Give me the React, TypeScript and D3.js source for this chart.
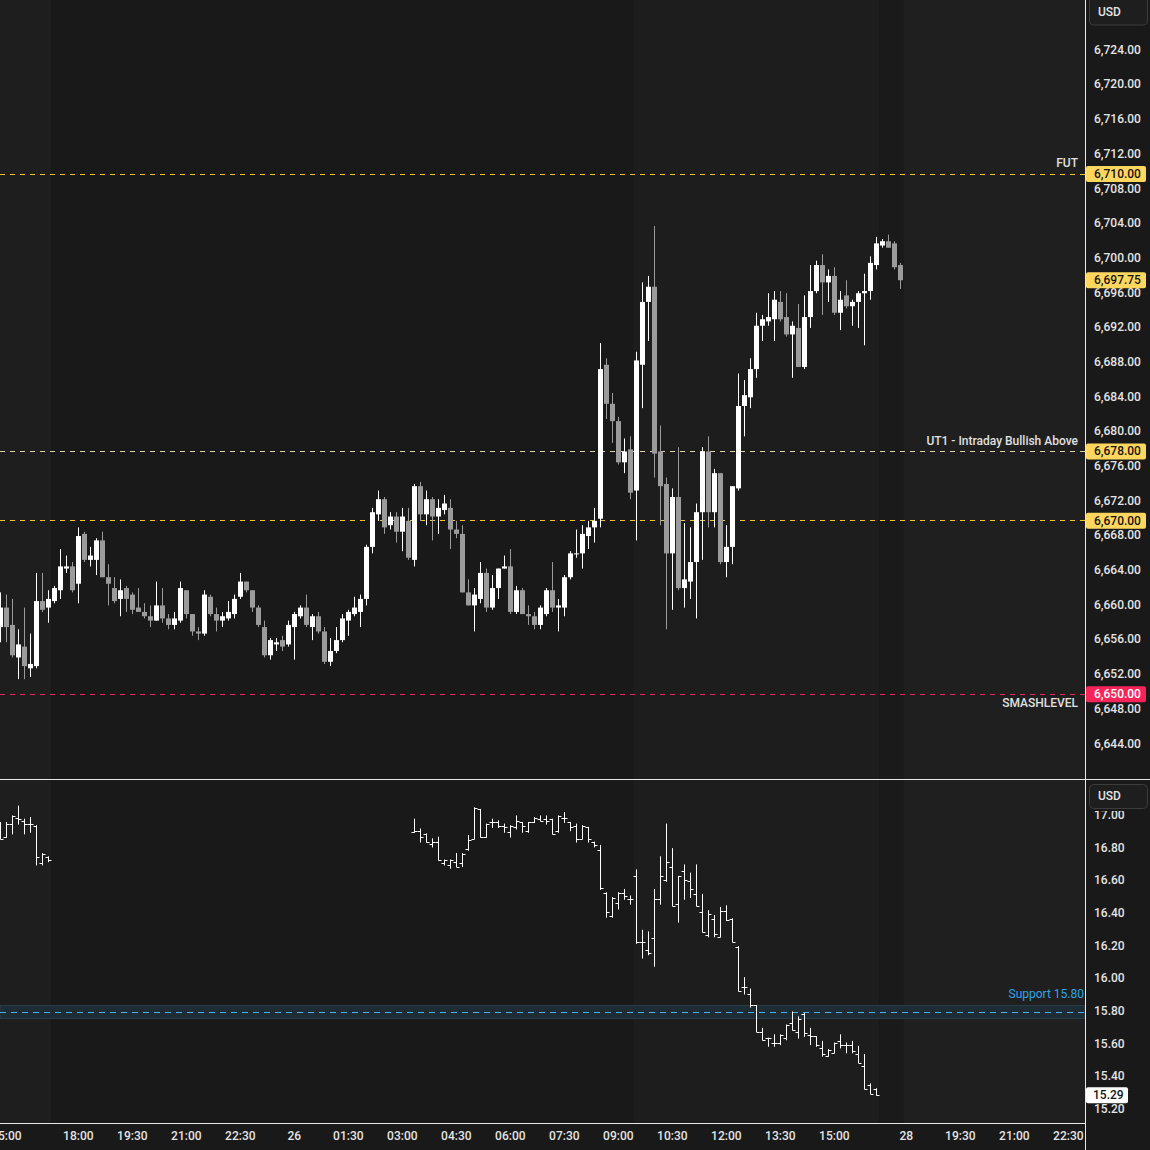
import React from 'react';
import * as d3 from 'd3';

// ---------- ES 10-minute candles (index 0 = 14:50) ----------
const esOpen = [6657.75,6660,6658,6654.25,6655.5,6653,6653.25,6660.75,6660,6660.75,6662,6664.5,6664.75,6662.75,6668.5,6665.5,6665.5,6667.75,6663.5,6662.25,6661,6662.25,6661.5,6660,6659.5,6659,6658.5,6660.25,6658.75,6658,6658.5,6662,6659.25,6657.25,6657,6661.25,6659.25,6658.5,6658.75,6659.25,6661.25,6663,6662,6660,6657.75,6654.5,6655.75,6656.25,6655.75,6657.75,6659,6660,6657.75,6659,6657.25,6653.75,6655,6656.25,6658.5,6659.25,6659.5,6661,6667,6670.75,6672.5,6669.5,6670.5,6668.75,6670,6665.5,6674,6670.75,6672.5,6670.5,6671.25,6671.5,6669,6668.5,6661.75,6660.25,6661,6664,6660,6662.25,6664.5,6664.75,6659.5,6662,6659.25,6659,6658,6659.25,6662,6660,6660,6663.5,6666.25,6666.25,6668.25,6669.25,6670.25,6688,6683.5,6681.5,6676.75,6678.25,6673.5,6688,6695.25,6697,6678,6674.25,6666.25,6672.75,6662.25,6663,6665.25,6671,6678,6671,6675.5,6665.25,6667,6673.75,6683.25,6684.25,6687.5,6692.5,6693,6693.25,6695.25,6693.5,6691.5,6692.25,6687.75,6693.5,6696.5,6699.5,6697.5,6698.25,6694,6696,6694.75,6695.25,6696.25,6696.5,6699.5,6701.75,6702.25,6702,6699.5];
const esHigh = [6661.75,6661.5,6661,6657.5,6660,6657,6664,6664,6662,6662.5,6666.75,6666,6665.25,6669.25,6668.75,6667,6668,6668.75,6665,6663.5,6663.25,6662.5,6661.75,6662.25,6660.5,6660.25,6663,6662.25,6659.25,6659.5,6663,6662,6659.25,6657.75,6662,6661.5,6660,6659.5,6660.75,6661.5,6664,6663,6662,6660.25,6658.5,6656.5,6656.5,6656.75,6658.5,6659.5,6660.25,6661.5,6659.25,6659.5,6657.75,6656.5,6657.75,6659.25,6659.75,6661.25,6661.5,6667.25,6671.5,6673.5,6672.75,6671,6671,6671.5,6671.5,6674.25,6674.5,6673.5,6672.75,6672.5,6673,6672.5,6670,6669.5,6663.25,6662.25,6665.25,6664.5,6663.75,6664.5,6666,6666.75,6662.5,6662.25,6660.25,6659.5,6660.25,6662.25,6665.25,6661,6663.75,6666.5,6669,6669.5,6670,6671.5,6690.5,6688.75,6684.75,6682,6679.5,6679.75,6689.5,6697.5,6698.25,6704,6681,6675,6673.75,6678.5,6669.75,6669.25,6672,6678.5,6679.75,6676,6675.5,6669.5,6674,6687,6686.25,6688.75,6694,6693.75,6696.25,6696.5,6696.5,6696.25,6693,6695,6696,6699.5,6700,6700.75,6699,6699.25,6696.5,6697.75,6695.5,6696.5,6698.5,6700.5,6702.75,6702.5,6703,6702.25,6699.75];
const esLow = [6656,6656,6654.25,6651.75,6651.75,6652,6653,6659.5,6658.25,6660.5,6661,6664,6661.75,6660.5,6665.25,6664.75,6663.75,6663.5,6660.25,6660.5,6659,6659.5,6659.25,6659.5,6658.75,6657.75,6658.5,6658.25,6657.5,6657.5,6658.25,6658.75,6656.75,6656.25,6656.75,6659,6657.25,6657.75,6658.5,6658.75,6661,6661.75,6659.5,6657.75,6654.25,6654,6655,6655,6655.5,6654,6658.75,6657.75,6656.25,6657,6653.5,6653.25,6654.75,6656,6656.75,6659,6657.75,6660.25,6666.25,6670,6668.5,6669,6667.5,6666.5,6665.5,6664.75,6670,6669.5,6667.75,6668.5,6670.75,6666.75,6668,6661.75,6660.25,6657.25,6660.5,6659.5,6659.75,6661,6664.5,6659.25,6659.25,6659.25,6658,6657.5,6657.5,6659,6659.5,6657.25,6659,6663.25,6665.75,6664.5,6666.75,6667.5,6669.25,6681.75,6679,6676.5,6675.5,6672.5,6667.75,6683,6690.75,6675,6669.5,6657.5,6659.75,6662,6660,6661,6658.75,6665.5,6669.25,6669.25,6665,6663.5,6665,6673.5,6679.75,6683,6686.5,6690.75,6692.5,6690.75,6693,6691.25,6686.5,6687.75,6687.5,6692.25,6696.25,6693.75,6695.25,6693.75,6692,6694.5,6692.5,6692.25,6690.25,6695.5,6699,6701.5,6701.5,6699,6696.75];
const esClose = [6660,6657.75,6654.5,6655.75,6653.25,6653.5,6660.75,6659.75,6661,6662.25,6664.75,6664.75,6662,6668.25,6665.5,6666,6667.75,6663.5,6662.75,6660.75,6662,6661,6659.75,6659.5,6659,6658.5,6660.25,6658.75,6658,6658.75,6662.25,6659.25,6657.25,6657,6661.5,6659.25,6658.5,6659,6659.5,6661,6663,6662,6660,6658,6654.5,6656.25,6656,6655.5,6658,6659.25,6660,6658,6659,6657.25,6653.75,6655,6656.25,6658.75,6659.5,6660,6661,6667,6671,6672.5,6669.25,6670.5,6668.75,6670.5,6665.75,6674,6670.75,6672.5,6670.5,6671.5,6672,6669,6668.5,6661.75,6660.25,6661.5,6664,6660,6662.25,6664.5,6664.75,6659.5,6662,6659.25,6659,6658,6660,6662,6660,6660.25,6663.5,6666.25,6666.25,6668.5,6669.25,6670,6687.5,6683.5,6681.5,6676.75,6678,6673.25,6688.5,6695.25,6697,6677.75,6674,6666.25,6672.75,6662.25,6663.25,6665.25,6671,6678,6671,6675.5,6665.25,6667,6674,6683.25,6684.5,6687.5,6692.5,6693.25,6693.5,6695.5,6693.25,6691.5,6692.5,6687.75,6693.5,6696.5,6699.5,6697.5,6698.25,6694,6695.5,6694.75,6695.25,6696.25,6696.5,6699.75,6702,6702.25,6701.5,6699.25,6697.75];

// ---------- VIX 10-minute bars: two sessions ----------
const vixStartA = 0;
const vixOpenA = [16.93,16.87,16.95,16.99,16.97,16.95,16.94,16.71,16.75];
const vixHighA = [16.96,16.96,17.00,17.06,16.98,16.99,16.94,16.77,16.75];
const vixLowA = [16.86,16.87,16.89,16.95,16.89,16.90,16.70,16.70,16.72];
const vixCloseA = [16.86,16.95,17.00,16.98,16.95,16.95,16.75,16.77,16.73];
const vixStartB = 69;
const vixOpenB = [16.90,16.91,16.89,16.83,16.84,16.71,16.70,16.72,16.71,16.80,16.86,17.04,16.87,16.96,16.96,16.94,16.90,16.93,16.96,16.91,16.96,16.98,16.98,16.98,16.91,16.99,16.96,16.94,16.86,16.93,16.84,16.79,16.53,16.39,16.47,16.53,16.49,16.63,16.23,16.18,16.25,16.49,16.61,16.69,16.46,16.66,16.60,16.52,16.41,16.27,16.37,16.26,16.42,16.37,16.20,15.95,15.91,15.84,15.68,15.64,15.61,15.61,15.64,15.73,15.68,15.79,15.66,15.65,15.58,15.53,15.55,15.62,15.60,15.60,15.54,15.47,15.35,15.33];
const vixHighB = [16.98,16.92,16.89,16.86,16.87,16.73,16.73,16.77,16.77,16.88,17.05,17.04,16.95,16.98,16.97,16.95,16.94,17.00,16.96,16.96,16.99,17.00,17.00,16.98,17.00,17.02,16.96,16.95,16.94,16.93,16.84,16.82,16.53,16.50,16.53,16.55,16.51,16.67,16.30,16.29,16.55,16.75,16.95,16.80,16.63,16.70,16.65,16.70,16.52,16.42,16.39,16.44,16.45,16.37,16.20,16.01,15.94,15.84,15.70,15.64,15.66,15.66,15.72,15.80,15.77,15.79,15.70,15.65,15.62,15.57,15.61,15.66,15.61,15.62,15.59,15.54,15.36,15.33];
const vixLowB = [16.90,16.84,16.84,16.81,16.73,16.70,16.68,16.69,16.69,16.79,16.86,16.87,16.87,16.93,16.93,16.90,16.87,16.92,16.90,16.90,16.96,16.97,16.95,16.89,16.90,16.96,16.91,16.84,16.86,16.84,16.81,16.55,16.38,16.38,16.43,16.49,16.46,16.22,16.13,16.15,16.08,16.46,16.60,16.45,16.35,16.49,16.50,16.45,16.29,16.26,16.26,16.26,16.36,16.23,15.93,15.91,15.83,15.68,15.63,15.59,15.59,15.60,15.63,15.69,15.64,15.65,15.60,15.59,15.53,15.53,15.55,15.58,15.55,15.55,15.49,15.33,15.30,15.29];
const vixCloseB = [16.91,16.87,16.84,16.84,16.73,16.73,16.73,16.69,16.77,16.85,17.05,16.87,16.95,16.96,16.94,16.93,16.94,16.97,16.94,16.96,16.99,16.97,16.97,16.89,17.00,16.99,16.93,16.86,16.94,16.86,16.82,16.56,16.41,16.50,16.53,16.51,16.49,16.23,16.23,16.16,16.49,16.63,16.72,16.45,16.63,16.61,16.55,16.45,16.29,16.40,16.28,16.42,16.36,16.23,15.93,15.95,15.84,15.68,15.63,15.64,15.61,15.66,15.72,15.69,15.76,15.67,15.65,15.60,15.54,15.57,15.61,15.60,15.60,15.56,15.49,15.33,15.30,15.29];

// ---------- axes ----------
const priceTicks = [6644,6648,6652,6656,6660,6664,6668,6672,6676,6680,6684,6688,6692,6696,6700,6704,6708,6712,6716,6720,6724];
const vixTicks = [15.2,15.4,15.6,15.8,16.0,16.2,16.4,16.6,16.8,17.0];
const timeTickIndex = [1,13,22,31,40,49,58,67,76,85,94,103,112,121,130,139,151,160,169,178];
const timeTickLabel = ['15:00','18:00','19:30','21:00','22:30','26','01:30','03:00','04:30','06:00','07:30','09:00','10:30','12:00','13:30','15:00','28','19:30','21:00','22:30'];

// ---------- horizontal levels ----------
const levelValues = [6710, 6678, 6670, 6650];
const levelNames = ['FUT', 'UT1 - Intraday Bullish Above', '', 'SMASHLEVEL'];
const levelColors = ['#f7c325', '#ddd3a6', '#f7c325', '#f0245a'];
const levelLabelBg = ['#ffd75e', '#ffd75e', '#ffd75e', '#f7245a'];
const levelLabelFg = ['#141414', '#141414', '#141414', '#ffffff'];
const lastPrice = 6697.75;
const vixLast = 15.29;
const supportLevel = 15.8;

// session shading boundaries (bar index) and colours
const shadeFrom = [-10, 8.5, 105.5, 146.5, 150.5];
const shadeTo = [8.5, 105.5, 146.5, 150.5, 200];
const shadeColor = ['#1e1e1e', '#191919', '#1d1d1d', '#1a1a1a', '#1f1f1f'];

const FONT = 'Roboto, "Noto Sans", sans-serif';
const PLOT_R = 1085;
const TOP_B = 779;
const BOT_T = 780;
const BOT_B = 1123;

export default function App() {
  const x = d3.scaleLinear().domain([0, 180]).range([0.33, 1080.33]);
  const y = d3.scaleLinear().domain([6650, 6710]).range([694.3, 174]);
  const yv = d3.scaleLinear().domain([16, 15.2]).range([979.3, 1110]);
  const fmtP = d3.format(',.2f');
  const fmtV = d3.format('.2f');

  const candles = esOpen.map((o, i) => ({ i, o, h: esHigh[i], l: esLow[i], c: esClose[i] }));
  const vixA = vixOpenA.map((o, k) => ({ i: vixStartA + k, o, h: vixHighA[k], l: vixLowA[k], c: vixCloseA[k] }));
  const vixB = vixOpenB.map((o, k) => ({ i: vixStartB + k, o, h: vixHighB[k], l: vixLowB[k], c: vixCloseB[k] }));
  const vix = vixA.concat(vixB);
  const axisText = '#e4e4e4';

  return (
    <svg width={1150} height={1150} style={{ display: 'block', position: 'absolute', left: 0, top: 0 }} fontFamily={FONT}>
      <defs>
        <clipPath id="topClip"><rect x={0} y={0} width={PLOT_R} height={TOP_B} /></clipPath>
        <clipPath id="botClip"><rect x={0} y={BOT_T} width={PLOT_R} height={BOT_B - BOT_T} /></clipPath>
        <clipPath id="timeClip"><rect x={0} y={BOT_B + 1} width={PLOT_R} height={30} /></clipPath>
        <clipPath id="vixAxisClip"><rect x={1086} y={811} width={64} height={BOT_B - 811} /></clipPath>
      </defs>
      <rect x={0} y={0} width={1150} height={1150} fill="#191919" />
      {/* session shading */}
      <g clipPath="url(#topClip)">
        {shadeFrom.map((f, k) => (
          <rect key={'st' + k} x={x(f)} y={0} width={x(shadeTo[k]) - x(f)} height={TOP_B} fill={shadeColor[k]} />
        ))}
      </g>
      <g clipPath="url(#botClip)">
        {shadeFrom.map((f, k) => (
          <rect key={'sb' + k} x={x(f)} y={BOT_T} width={x(shadeTo[k]) - x(f)} height={BOT_B - BOT_T} fill={shadeColor[k]} />
        ))}
      </g>

      {/* level lines */}
      <g clipPath="url(#topClip)">
        {levelValues.map((v, k) => (
          <line key={'lv' + k} x1={0} x2={PLOT_R} y1={Math.floor(y(v)) + 0.5} y2={Math.floor(y(v)) + 0.5}
            stroke={levelColors[k]} strokeWidth={1} strokeDasharray="5,5" />
        ))}
      </g>

      {/* candles */}
      <g clipPath="url(#topClip)">
        {candles.map(d => {
          const cx = Math.round(x(d.i));
          const up = d.c >= d.o;
          const col = up ? '#ffffff' : '#9b9b9b';
          const yt = y(Math.max(d.o, d.c));
          const yb = y(Math.min(d.o, d.c));
          return (
            <g key={'c' + d.i}>
              <rect x={cx} y={y(d.h)} width={1} height={Math.max(1, y(d.l) - y(d.h))} fill={col} />
              <rect x={cx - 2} y={yt} width={5} height={Math.max(1, yb - yt)} fill={col} />
            </g>
          );
        })}
      </g>

      {/* level text labels */}
      {levelValues.map((v, k) => levelNames[k] ? (
        <text key={'ln' + k} x={1078} y={k === 3 ? y(v) + 10 : y(v) - 10} textAnchor="end" dominantBaseline="middle"
          fontSize={12} fontWeight={500} fill="#e0e0e0">{levelNames[k]}</text>
      ) : null)}

      {/* support band in lower pane */}
      <g clipPath="url(#botClip)">
        <rect x={0} y={yv(supportLevel) - 6.5} width={PLOT_R} height={13} fill="#1e2c35" stroke="#2b3e4a" strokeWidth={1} />
        <line x1={0} x2={PLOT_R} y1={Math.round(yv(supportLevel)) + 0.5} y2={Math.round(yv(supportLevel)) + 0.5}
          stroke="#4db2ec" strokeWidth={1} strokeDasharray="6,5" />
        {vix.map(d => {
          const cx = Math.round(x(d.i)) + 0.5;
          return (
            <g key={'v' + d.i} stroke="#ffffff" strokeWidth={1}>
              <line x1={cx} x2={cx} y1={yv(d.h) - 0.5} y2={yv(d.l) + 0.5} />
              <line x1={cx - 3} x2={cx} y1={Math.round(yv(d.o)) + 0.5} y2={Math.round(yv(d.o)) + 0.5} />
              <line x1={cx} x2={cx + 3} y1={Math.round(yv(d.c)) + 0.5} y2={Math.round(yv(d.c)) + 0.5} />
            </g>
          );
        })}
      </g>
      <text x={1084} y={yv(supportLevel) - 17} textAnchor="end" dominantBaseline="middle" fontSize={12} fill="#2ea6e6">Support 15.80</text>

      {/* separators */}
      <line x1={PLOT_R + 0.5} x2={PLOT_R + 0.5} y1={0} y2={1150} stroke="#e8e8e8" strokeWidth={1} />
      <line x1={0} x2={1150} y1={TOP_B + 0.5} y2={TOP_B + 0.5} stroke="#e8e8e8" strokeWidth={1} />
      <line x1={0} x2={PLOT_R} y1={BOT_B + 0.5} y2={BOT_B + 0.5} stroke="#e8e8e8" strokeWidth={1} />

      {/* price axis */}
      <g fontSize={12} fontWeight={500} fill={axisText}>
        {priceTicks.map(t => (
          <text key={'pt' + t} x={1094} y={y(t) - 2} dominantBaseline="middle">{fmtP(t)}</text>
        ))}
      </g>
      {levelValues.map((v, k) => (
        <g key={'lb' + k}>
          <rect x={1086} y={y(v) - 8} width={60} height={16} rx={2} fill={levelLabelBg[k]} />
          <text x={1094} y={y(v) + 0.5} dominantBaseline="middle" fontSize={12} fontWeight={500} fill={levelLabelFg[k]}>{fmtP(v)}</text>
        </g>
      ))}
      <rect x={1086} y={y(lastPrice) - 8} width={60} height={16} rx={2} fill="#ffd75e" />
      <text x={1094} y={y(lastPrice) + 0.5} dominantBaseline="middle" fontSize={12} fontWeight={500} fill="#141414">{fmtP(lastPrice)}</text>

      {/* vix axis */}
      <g fontSize={12} fontWeight={500} fill={axisText} clipPath="url(#vixAxisClip)">
        {vixTicks.map(t => (
          <text key={'vt' + t} x={1094} y={yv(t)} dominantBaseline="middle">{fmtV(t)}</text>
        ))}
      </g>
      <rect x={1086} y={yv(vixLast) - 8} width={42} height={16} rx={2} fill="#ffffff" />
      <text x={1093} y={yv(vixLast) + 0.5} dominantBaseline="middle" fontSize={12} fontWeight={500} fill="#141414">{fmtV(vixLast)}</text>

      {/* USD buttons */}
      <rect x={1089.5} y={-4} width={58} height={29} rx={4} fill="#1e1e1e" stroke="#3c3c3c" />
      <text x={1098} y={13} dominantBaseline="middle" fontSize={12} fontWeight={500} fill={axisText}>USD</text>
      <rect x={1089.5} y={784.5} width={58} height={24} rx={4} fill="#1e1e1e" stroke="#3c3c3c" />
      <text x={1098} y={797} dominantBaseline="middle" fontSize={12} fontWeight={500} fill={axisText}>USD</text>

      {/* time axis */}
      <g fontSize={12} fontWeight={500} fill={axisText} clipPath="url(#timeClip)">
        {timeTickIndex.map((ti, k) => (
          <text key={'tt' + k} x={x(ti)} y={1137} textAnchor="middle" dominantBaseline="middle">{timeTickLabel[k]}</text>
        ))}
      </g>
    </svg>
  );
}
